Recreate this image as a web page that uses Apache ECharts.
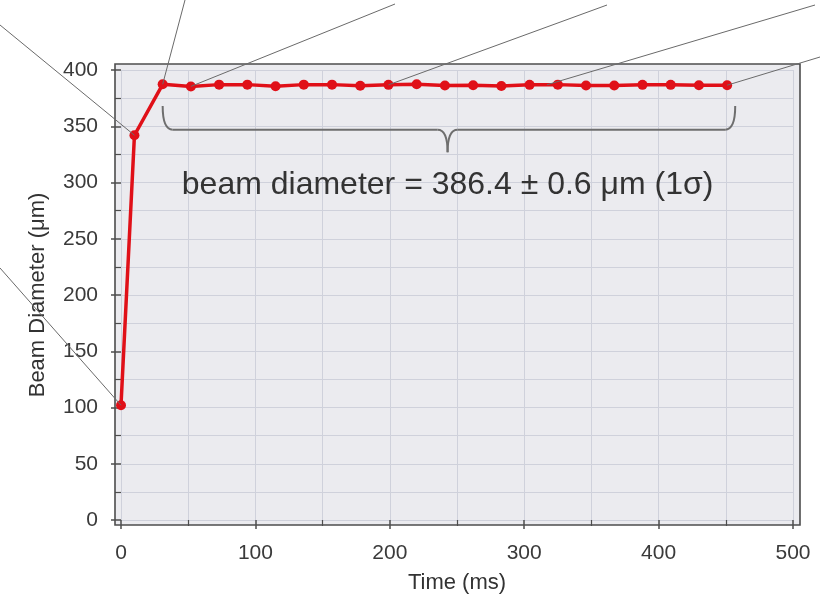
<!DOCTYPE html>
<html>
<head>
<meta charset="utf-8">
<script src="https://cdn.jsdelivr.net/npm/echarts@6.0.0/dist/echarts.min.js"></script>
<style>
  html, body { margin: 0; padding: 0; background: #ffffff; }
  #chart { width: 820px; height: 599px; }
</style>
</head>
<body>
<div id="chart"></div>
<script>
// ---- data ----
const timeMs = [0, 10, 31, 52, 73, 94, 115, 136, 157, 178, 199, 220, 241, 262, 283, 304, 325, 346, 367, 388, 409, 430, 451];
const beamDiameter = [102, 342, 387.3, 385.4, 387.0, 387.0, 385.5, 387.0, 387.0, 386.0, 386.8, 387.3, 386.3, 386.5, 385.8, 386.8, 387.0, 386.3, 386.3, 386.8, 386.8, 386.5, 386.5];
const xTickValues = [0, 100, 200, 300, 400, 500];
const yTickValues = [0, 50, 100, 150, 200, 250, 300, 350, 400];
const xAxisTitle = 'Time (ms)';
const yAxisTitle = 'Beam Diameter (\u03bcm)';
const annotationText = 'beam diameter = 386.4 \u00b1 0.6 \u03bcm (1\u03c3)';
// brace span (data units): start time, end time, tip time
const braceSpan = [31, 457, 243];
// leader-line targets (data units)
const leaderTargets = [[0, 102], [10, 342], [31, 387.3], [52, 385.4], [199, 386.8], [317, 386.9], [451, 386.5]];

const FONT = '"Liberation Sans", Arial, Helvetica, sans-serif';
const chart = echarts.init(document.getElementById('chart'), null, { renderer: 'canvas' });

const seriesData = timeMs.map((t, i) => [t, beamDiameter[i]]);

chart.setOption({
  animation: false,
  backgroundColor: '#ffffff',
  grid: { left: 121, right: 27, top: 70, bottom: 79, containLabel: false },
  xAxis: {
    type: 'value',
    min: xTickValues[0],
    max: xTickValues[xTickValues.length - 1],
    interval: 100,
    offset: 5,
    name: xAxisTitle,
    nameLocation: 'middle',
    nameGap: 47,
    nameTextStyle: { fontFamily: FONT, fontSize: 22, color: '#333333' },
    axisLine: { show: false },
    axisTick: { show: true, length: 9, inside: false, lineStyle: { color: '#4d4d4d', width: 1.5 } },
    minorTick: { show: true, splitNumber: 2, length: 6, lineStyle: { color: '#4d4d4d', width: 1.2 } },
    axisLabel: { fontFamily: FONT, fontSize: 21, color: '#3a3a3a', margin: 18 },
    splitLine: { show: true, lineStyle: { color: '#cfd1db', width: 1 } },
    minorSplitLine: { show: true, lineStyle: { color: '#cfd1db', width: 1 } }
  },
  yAxis: {
    type: 'value',
    min: yTickValues[0],
    max: yTickValues[yTickValues.length - 1],
    interval: 50,
    offset: 6,
    name: yAxisTitle,
    nameLocation: 'middle',
    nameGap: 66,
    nameTextStyle: { fontFamily: FONT, fontSize: 22, color: '#333333' },
    axisLine: { show: false },
    axisTick: { show: true, length: 10, inside: false, lineStyle: { color: '#4d4d4d', width: 1.5 } },
    minorTick: { show: true, splitNumber: 2, length: 6, lineStyle: { color: '#4d4d4d', width: 1.2 } },
    axisLabel: { fontFamily: FONT, fontSize: 21, color: '#3a3a3a', margin: 17 },
    splitLine: { show: true, lineStyle: { color: '#cfd1db', width: 1 } },
    minorSplitLine: { show: true, lineStyle: { color: '#cfd1db', width: 1 } }
  },
  series: [{
    type: 'line',
    data: seriesData,
    clip: false,
    z: 5,
    symbol: 'circle',
    symbolSize: 10,
    showSymbol: true,
    lineStyle: { color: '#e01018', width: 3.5 },
    itemStyle: { color: '#e01018' }
  }]
});

function px(x, y) { return chart.convertToPixel({ gridIndex: 0 }, [x, y]); }

const g0 = px(xTickValues[0], yTickValues[0]);
const g1 = px(xTickValues[xTickValues.length - 1], yTickValues[yTickValues.length - 1]);
const frame = { x: g0[0] - 6, y: g1[1] - 6, w: (g1[0] + 7) - (g0[0] - 6), h: (g0[1] + 5) - (g1[1] - 6) };

// leader-line outer ends (pixels, outside the plot)
const leaderOuter = [[0, 268], [0, 25], [185, 0], [395, 4], [607, 5], [815, 5], [820, 57]];

const graphics = [];
graphics.push({
  type: 'rect', z: -10, silent: true,
  shape: { x: frame.x, y: frame.y, width: frame.w, height: frame.h },
  style: { fill: '#ebebef', stroke: null }
});
graphics.push({
  type: 'rect', z: 50, silent: true,
  shape: { x: frame.x, y: frame.y, width: frame.w, height: frame.h },
  style: { fill: null, stroke: '#4d4d4d', lineWidth: 1.6 }
});

leaderTargets.forEach((t, i) => {
  const p = px(t[0], t[1]);
  const o = leaderOuter[i];
  graphics.push({
    type: 'line', z: 60, silent: true,
    shape: { x1: o[0], y1: o[1], x2: p[0], y2: p[1] },
    style: { stroke: '#6a6a6a', lineWidth: 1 }
  });
});

// curly brace (built from quadratic curves and straight segments)
const bL = px(braceSpan[0], 368);
const bR = px(braceSpan[1], 368);
const bH = px(braceSpan[2], 347)[1];
const tip = px(braceSpan[2], 327);
const r = 10;
const braceStyle = { fill: null, stroke: '#6e6e6e', lineWidth: 2 };
function curve(x1, y1, cx, cy, x2, y2) {
  graphics.push({ type: 'bezierCurve', z: 40, silent: true,
    shape: { x1: x1, y1: y1, cpx1: cx, cpy1: cy, x2: x2, y2: y2 }, style: braceStyle });
}
function seg(x1, y1, x2, y2) {
  graphics.push({ type: 'line', z: 40, silent: true,
    shape: { x1: x1, y1: y1, x2: x2, y2: y2 }, style: braceStyle });
}
curve(bL[0], bL[1], bL[0], bH, bL[0] + r, bH);
seg(bL[0] + r, bH, tip[0] - r, bH);
curve(tip[0] - r, bH, tip[0], bH, tip[0], tip[1]);
curve(tip[0], tip[1], tip[0], bH, tip[0] + r, bH);
seg(tip[0] + r, bH, bR[0] - r, bH);
curve(bR[0] - r, bH, bR[0], bH, bR[0], bR[1]);

const tp = px(braceSpan[2], 298);
graphics.push({
  type: 'text', z: 40, silent: true,
  x: tp[0], y: tp[1],
  style: {
    text: annotationText,
    font: '32px ' + FONT, fill: '#333333',
    textAlign: 'center', textVerticalAlign: 'middle', verticalAlign: 'middle'
  }
});

chart.setOption({ graphic: graphics });
</script>
</body>
</html>
